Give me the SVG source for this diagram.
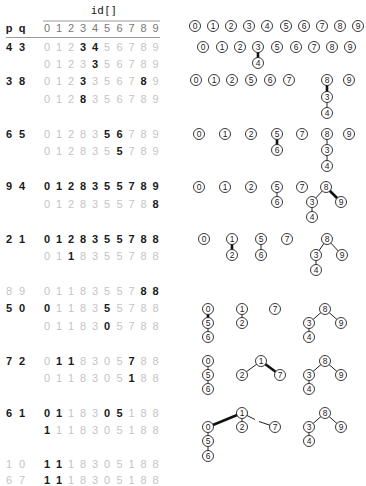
<svg xmlns="http://www.w3.org/2000/svg" width="366" height="486" viewBox="0 0 366 486">
<style>
.t{font-family:"Liberation Sans","DejaVu Sans",sans-serif;font-size:11px;text-anchor:middle}
.g{fill:#c4c4c4}
.b{fill:#1a1a1a;font-weight:bold}
.h{fill:#777}
.pq{fill:#1a1a1a;font-weight:bold}
.pg{fill:#c4c4c4}
.mono{font-family:"DejaVu Sans Mono","Liberation Mono",monospace;font-size:11px;fill:#1a1a1a;text-anchor:middle}
.rule{stroke:#999;stroke-width:1}
circle{fill:#fff;stroke:#222;stroke-width:0.9}
.n text{font-family:"Liberation Sans","DejaVu Sans",sans-serif;font-size:8.5px;text-anchor:middle;fill:#222}
.e{stroke:#222;stroke-width:1;fill:none}
.k{stroke:#111;stroke-width:2.6;fill:none}
</style>

<g id="table">
<text class="mono" x="104" y="14">id[]</text>
<line class="rule" x1="43" y1="21" x2="160" y2="21"/>
<text class="t pq" y="32"><tspan x="9">p</tspan><tspan x="22">q</tspan></text>
<text class="t h" y="32"><tspan x="47">0</tspan><tspan x="59">1</tspan><tspan x="71">2</tspan><tspan x="83">3</tspan><tspan x="95">4</tspan><tspan x="107">5</tspan><tspan x="119.5">6</tspan><tspan x="131.5">7</tspan><tspan x="143.5">8</tspan><tspan x="155.5">9</tspan></text>
<line class="rule" x1="6" y1="37.5" x2="160" y2="37.5"/>

<text class="t pq" y="50.5"><tspan x="9">4</tspan><tspan x="22">3</tspan></text>
<text class="t" y="50.5"><tspan class="g" x="47">0</tspan><tspan class="g" x="59">1</tspan><tspan class="g" x="71">2</tspan><tspan class="b" x="83">3</tspan><tspan class="b" x="95">4</tspan><tspan class="g" x="107">5</tspan><tspan class="g" x="119.5">6</tspan><tspan class="g" x="131.5">7</tspan><tspan class="g" x="143.5">8</tspan><tspan class="g" x="155.5">9</tspan></text>
<text class="t" y="68"><tspan class="g" x="47">0</tspan><tspan class="g" x="59">1</tspan><tspan class="g" x="71">2</tspan><tspan class="g" x="83">3</tspan><tspan class="b" x="95">3</tspan><tspan class="g" x="107">5</tspan><tspan class="g" x="119.5">6</tspan><tspan class="g" x="131.5">7</tspan><tspan class="g" x="143.5">8</tspan><tspan class="g" x="155.5">9</tspan></text>

<text class="t pq" y="85.4"><tspan x="9">3</tspan><tspan x="22">8</tspan></text>
<text class="t" y="85.4"><tspan class="g" x="47">0</tspan><tspan class="g" x="59">1</tspan><tspan class="g" x="71">2</tspan><tspan class="b" x="83">3</tspan><tspan class="g" x="95">3</tspan><tspan class="g" x="107">5</tspan><tspan class="g" x="119.5">6</tspan><tspan class="g" x="131.5">7</tspan><tspan class="b" x="143.5">8</tspan><tspan class="g" x="155.5">9</tspan></text>
<text class="t" y="102.9"><tspan class="g" x="47">0</tspan><tspan class="g" x="59">1</tspan><tspan class="g" x="71">2</tspan><tspan class="b" x="83">8</tspan><tspan class="g" x="95">3</tspan><tspan class="g" x="107">5</tspan><tspan class="g" x="119.5">6</tspan><tspan class="g" x="131.5">7</tspan><tspan class="g" x="143.5">8</tspan><tspan class="g" x="155.5">9</tspan></text>

<text class="t pq" y="137.8"><tspan x="9">6</tspan><tspan x="22">5</tspan></text>
<text class="t" y="137.8"><tspan class="g" x="47">0</tspan><tspan class="g" x="59">1</tspan><tspan class="g" x="71">2</tspan><tspan class="g" x="83">8</tspan><tspan class="g" x="95">3</tspan><tspan class="b" x="107">5</tspan><tspan class="b" x="119.5">6</tspan><tspan class="g" x="131.5">7</tspan><tspan class="g" x="143.5">8</tspan><tspan class="g" x="155.5">9</tspan></text>
<text class="t" y="155.2"><tspan class="g" x="47">0</tspan><tspan class="g" x="59">1</tspan><tspan class="g" x="71">2</tspan><tspan class="g" x="83">8</tspan><tspan class="g" x="95">3</tspan><tspan class="g" x="107">5</tspan><tspan class="b" x="119.5">5</tspan><tspan class="g" x="131.5">7</tspan><tspan class="g" x="143.5">8</tspan><tspan class="g" x="155.5">9</tspan></text>

<text class="t pq" y="190.1"><tspan x="9">9</tspan><tspan x="22">4</tspan></text>
<text class="t b" y="190.1"><tspan x="47">0</tspan><tspan x="59">1</tspan><tspan x="71">2</tspan><tspan x="83">8</tspan><tspan x="95">3</tspan><tspan x="107">5</tspan><tspan x="119.5">5</tspan><tspan x="131.5">7</tspan><tspan x="143.5">8</tspan><tspan x="155.5">9</tspan></text>
<text class="t" y="207.6"><tspan class="g" x="47">0</tspan><tspan class="g" x="59">1</tspan><tspan class="g" x="71">2</tspan><tspan class="g" x="83">8</tspan><tspan class="g" x="95">3</tspan><tspan class="g" x="107">5</tspan><tspan class="g" x="119.5">5</tspan><tspan class="g" x="131.5">7</tspan><tspan class="g" x="143.5">8</tspan><tspan class="b" x="155.5">8</tspan></text>

<text class="t pq" y="242.5"><tspan x="9">2</tspan><tspan x="22">1</tspan></text>
<text class="t b" y="242.5"><tspan x="47">0</tspan><tspan x="59">1</tspan><tspan x="71">2</tspan><tspan x="83">8</tspan><tspan x="95">3</tspan><tspan x="107">5</tspan><tspan x="119.5">5</tspan><tspan x="131.5">7</tspan><tspan x="143.5">8</tspan><tspan x="155.5">8</tspan></text>
<text class="t" y="259.9"><tspan class="g" x="47">0</tspan><tspan class="g" x="59">1</tspan><tspan class="b" x="71">1</tspan><tspan class="g" x="83">8</tspan><tspan class="g" x="95">3</tspan><tspan class="g" x="107">5</tspan><tspan class="g" x="119.5">5</tspan><tspan class="g" x="131.5">7</tspan><tspan class="g" x="143.5">8</tspan><tspan class="g" x="155.5">8</tspan></text>

<text class="t pg" y="294.8"><tspan x="9">8</tspan><tspan x="22">9</tspan></text>
<text class="t" y="294.8"><tspan class="g" x="47">0</tspan><tspan class="g" x="59">1</tspan><tspan class="g" x="71">1</tspan><tspan class="g" x="83">8</tspan><tspan class="g" x="95">3</tspan><tspan class="g" x="107">5</tspan><tspan class="g" x="119.5">5</tspan><tspan class="g" x="131.5">7</tspan><tspan class="b" x="143.5">8</tspan><tspan class="b" x="155.5">8</tspan></text>
<text class="t pq" y="312.3"><tspan x="9">5</tspan><tspan x="22">0</tspan></text>
<text class="t" y="312.3"><tspan class="b" x="47">0</tspan><tspan class="g" x="59">1</tspan><tspan class="g" x="71">1</tspan><tspan class="g" x="83">8</tspan><tspan class="g" x="95">3</tspan><tspan class="b" x="107">5</tspan><tspan class="g" x="119.5">5</tspan><tspan class="g" x="131.5">7</tspan><tspan class="g" x="143.5">8</tspan><tspan class="g" x="155.5">8</tspan></text>
<text class="t" y="329.7"><tspan class="g" x="47">0</tspan><tspan class="g" x="59">1</tspan><tspan class="g" x="71">1</tspan><tspan class="g" x="83">8</tspan><tspan class="g" x="95">3</tspan><tspan class="b" x="107">0</tspan><tspan class="g" x="119.5">5</tspan><tspan class="g" x="131.5">7</tspan><tspan class="g" x="143.5">8</tspan><tspan class="g" x="155.5">8</tspan></text>

<text class="t pq" y="364.6"><tspan x="9">7</tspan><tspan x="22">2</tspan></text>
<text class="t" y="364.6"><tspan class="g" x="47">0</tspan><tspan class="b" x="59">1</tspan><tspan class="b" x="71">1</tspan><tspan class="g" x="83">8</tspan><tspan class="g" x="95">3</tspan><tspan class="g" x="107">0</tspan><tspan class="g" x="119.5">5</tspan><tspan class="b" x="131.5">7</tspan><tspan class="g" x="143.5">8</tspan><tspan class="g" x="155.5">8</tspan></text>
<text class="t" y="382"><tspan class="g" x="47">0</tspan><tspan class="g" x="59">1</tspan><tspan class="g" x="71">1</tspan><tspan class="g" x="83">8</tspan><tspan class="g" x="95">3</tspan><tspan class="g" x="107">0</tspan><tspan class="g" x="119.5">5</tspan><tspan class="b" x="131.5">1</tspan><tspan class="g" x="143.5">8</tspan><tspan class="g" x="155.5">8</tspan></text>

<text class="t pq" y="417"><tspan x="9">6</tspan><tspan x="22">1</tspan></text>
<text class="t" y="417"><tspan class="b" x="47">0</tspan><tspan class="b" x="59">1</tspan><tspan class="g" x="71">1</tspan><tspan class="g" x="83">8</tspan><tspan class="g" x="95">3</tspan><tspan class="b" x="107">0</tspan><tspan class="b" x="119.5">5</tspan><tspan class="g" x="131.5">1</tspan><tspan class="g" x="143.5">8</tspan><tspan class="g" x="155.5">8</tspan></text>
<text class="t" y="434.4"><tspan class="b" x="47">1</tspan><tspan class="g" x="59">1</tspan><tspan class="g" x="71">1</tspan><tspan class="g" x="83">8</tspan><tspan class="g" x="95">3</tspan><tspan class="g" x="107">0</tspan><tspan class="g" x="119.5">5</tspan><tspan class="g" x="131.5">1</tspan><tspan class="g" x="143.5">8</tspan><tspan class="g" x="155.5">8</tspan></text>

<text class="t pg" y="468"><tspan x="9">1</tspan><tspan x="22">0</tspan></text>
<text class="t" y="468"><tspan class="b" x="47">1</tspan><tspan class="b" x="59">1</tspan><tspan class="g" x="71">1</tspan><tspan class="g" x="83">8</tspan><tspan class="g" x="95">3</tspan><tspan class="g" x="107">0</tspan><tspan class="g" x="119.5">5</tspan><tspan class="g" x="131.5">1</tspan><tspan class="g" x="143.5">8</tspan><tspan class="g" x="155.5">8</tspan></text>
<text class="t pg" y="483.5"><tspan x="9">6</tspan><tspan x="22">7</tspan></text>
<text class="t" y="483.5"><tspan class="b" x="47">1</tspan><tspan class="b" x="59">1</tspan><tspan class="g" x="71">1</tspan><tspan class="g" x="83">8</tspan><tspan class="g" x="95">3</tspan><tspan class="g" x="107">0</tspan><tspan class="g" x="119.5">5</tspan><tspan class="g" x="131.5">1</tspan><tspan class="g" x="143.5">8</tspan><tspan class="g" x="155.5">8</tspan></text>
</g>

<g id="connectors">
<line class="k" x1="258" y1="47" x2="258" y2="63"/>
<line class="k" x1="327" y1="80" x2="327" y2="97"/>
<line class="e" x1="327" y1="97" x2="327" y2="113"/>
<line class="k" x1="277" y1="134" x2="277" y2="150"/>
<line class="e" x1="327" y1="134" x2="327" y2="150"/>
<line class="e" x1="327" y1="150" x2="327" y2="166"/>
<line class="k" x1="326" y1="187" x2="341" y2="202"/>
<line class="e" x1="277" y1="187" x2="277" y2="202"/>
<line class="e" x1="326" y1="187" x2="312" y2="202"/>
<line class="e" x1="312" y1="202" x2="312" y2="217"/>
<line class="k" x1="232" y1="239" x2="232" y2="255"/>
<line class="e" x1="261" y1="239" x2="261" y2="255"/>
<line class="e" x1="327" y1="239" x2="316" y2="255"/>
<line class="e" x1="327" y1="239" x2="342" y2="255"/>
<line class="e" x1="316" y1="255" x2="316" y2="270"/>
<line class="k" x1="208" y1="309" x2="208" y2="323"/>
<line class="e" x1="208" y1="323" x2="208" y2="337"/>
<line class="e" x1="242" y1="309" x2="242" y2="323"/>
<line class="e" x1="325" y1="309" x2="309" y2="323"/>
<line class="e" x1="325" y1="309" x2="341" y2="323"/>
<line class="e" x1="309" y1="323" x2="309" y2="337"/>
<line class="k" x1="261" y1="361" x2="280" y2="375"/>
<line class="e" x1="261" y1="361" x2="242" y2="375"/>
<line class="e" x1="208" y1="361" x2="208" y2="375"/>
<line class="e" x1="208" y1="375" x2="208" y2="389"/>
<line class="e" x1="325" y1="361" x2="309" y2="375"/>
<line class="e" x1="325" y1="361" x2="341" y2="375"/>
<line class="e" x1="309" y1="375" x2="309" y2="389"/>
<line class="k" x1="242" y1="413" x2="208" y2="427"/>
<line class="e" x1="242" y1="413" x2="242" y2="427"/>
<line class="e" x1="242" y1="413" x2="255" y2="419.5"/>
<line class="e" x1="259" y1="421.5" x2="275" y2="427"/>
<line class="e" x1="208" y1="427" x2="208" y2="441"/>
<line class="e" x1="208" y1="441" x2="208" y2="456"/>
<line class="e" x1="325" y1="413" x2="309" y2="427"/>
<line class="e" x1="325" y1="413" x2="341" y2="427"/>
<line class="e" x1="309" y1="427" x2="309" y2="441"/>
</g>

<g id="f0-0" class="n"><circle cx="195" cy="26" r="5.5"/><text x="195" y="29">0</text></g>
<g id="f0-1" class="n"><circle cx="213" cy="26" r="5.5"/><text x="213" y="29">1</text></g>
<g id="f0-2" class="n"><circle cx="231" cy="26" r="5.5"/><text x="231" y="29">2</text></g>
<g id="f0-3" class="n"><circle cx="249" cy="26" r="5.5"/><text x="249" y="29">3</text></g>
<g id="f0-4" class="n"><circle cx="267" cy="26" r="5.5"/><text x="267" y="29">4</text></g>
<g id="f0-5" class="n"><circle cx="286" cy="26" r="5.5"/><text x="286" y="29">5</text></g>
<g id="f0-6" class="n"><circle cx="304" cy="26" r="5.5"/><text x="304" y="29">6</text></g>
<g id="f0-7" class="n"><circle cx="322" cy="26" r="5.5"/><text x="322" y="29">7</text></g>
<g id="f0-8" class="n"><circle cx="340" cy="26" r="5.5"/><text x="340" y="29">8</text></g>
<g id="f0-9" class="n"><circle cx="358" cy="26" r="5.5"/><text x="358" y="29">9</text></g>

<g id="f1-0" class="n"><circle cx="203" cy="47" r="5.5"/><text x="203" y="50">0</text></g>
<g id="f1-1" class="n"><circle cx="222" cy="47" r="5.5"/><text x="222" y="50">1</text></g>
<g id="f1-2" class="n"><circle cx="240" cy="47" r="5.5"/><text x="240" y="50">2</text></g>
<g id="f1-3" class="n"><circle cx="258" cy="47" r="5.5"/><text x="258" y="50">3</text></g>
<g id="f1-4" class="n"><circle cx="258" cy="63" r="5.5"/><text x="258" y="66">4</text></g>
<g id="f1-5" class="n"><circle cx="277" cy="47" r="5.5"/><text x="277" y="50">5</text></g>
<g id="f1-6" class="n"><circle cx="296" cy="47" r="5.5"/><text x="296" y="50">6</text></g>
<g id="f1-7" class="n"><circle cx="314" cy="47" r="5.5"/><text x="314" y="50">7</text></g>
<g id="f1-8" class="n"><circle cx="332" cy="47" r="5.5"/><text x="332" y="50">8</text></g>
<g id="f1-9" class="n"><circle cx="350" cy="47" r="5.5"/><text x="350" y="50">9</text></g>

<g id="f2-0" class="n"><circle cx="196" cy="80" r="5.5"/><text x="196" y="83">0</text></g>
<g id="f2-1" class="n"><circle cx="214" cy="80" r="5.5"/><text x="214" y="83">1</text></g>
<g id="f2-2" class="n"><circle cx="232" cy="80" r="5.5"/><text x="232" y="83">2</text></g>
<g id="f2-5" class="n"><circle cx="251" cy="80" r="5.5"/><text x="251" y="83">5</text></g>
<g id="f2-6" class="n"><circle cx="270" cy="80" r="5.5"/><text x="270" y="83">6</text></g>
<g id="f2-7" class="n"><circle cx="289" cy="80" r="5.5"/><text x="289" y="83">7</text></g>
<g id="f2-8" class="n"><circle cx="327" cy="80" r="5.5"/><text x="327" y="83">8</text></g>
<g id="f2-3" class="n"><circle cx="327" cy="97" r="5.5"/><text x="327" y="100">3</text></g>
<g id="f2-4" class="n"><circle cx="327" cy="113" r="5.5"/><text x="327" y="116">4</text></g>
<g id="f2-9" class="n"><circle cx="349" cy="80" r="5.5"/><text x="349" y="83">9</text></g>

<g id="f3-0" class="n"><circle cx="199" cy="134" r="5.5"/><text x="199" y="137">0</text></g>
<g id="f3-1" class="n"><circle cx="225" cy="134" r="5.5"/><text x="225" y="137">1</text></g>
<g id="f3-2" class="n"><circle cx="251" cy="134" r="5.5"/><text x="251" y="137">2</text></g>
<g id="f3-5" class="n"><circle cx="277" cy="134" r="5.5"/><text x="277" y="137">5</text></g>
<g id="f3-6" class="n"><circle cx="277" cy="150" r="5.5"/><text x="277" y="153">6</text></g>
<g id="f3-7" class="n"><circle cx="302" cy="134" r="5.5"/><text x="302" y="137">7</text></g>
<g id="f3-8" class="n"><circle cx="327" cy="134" r="5.5"/><text x="327" y="137">8</text></g>
<g id="f3-3" class="n"><circle cx="327" cy="150" r="5.5"/><text x="327" y="153">3</text></g>
<g id="f3-4" class="n"><circle cx="327" cy="166" r="5.5"/><text x="327" y="169">4</text></g>
<g id="f3-9" class="n"><circle cx="349" cy="134" r="5.5"/><text x="349" y="137">9</text></g>

<g id="f4-0" class="n"><circle cx="199" cy="187" r="5.5"/><text x="199" y="190">0</text></g>
<g id="f4-1" class="n"><circle cx="225" cy="187" r="5.5"/><text x="225" y="190">1</text></g>
<g id="f4-2" class="n"><circle cx="251" cy="187" r="5.5"/><text x="251" y="190">2</text></g>
<g id="f4-5" class="n"><circle cx="277" cy="187" r="5.5"/><text x="277" y="190">5</text></g>
<g id="f4-6" class="n"><circle cx="277" cy="202" r="5.5"/><text x="277" y="205">6</text></g>
<g id="f4-7" class="n"><circle cx="302" cy="187" r="5.5"/><text x="302" y="190">7</text></g>
<g id="f4-8" class="n"><circle cx="326" cy="187" r="5.5"/><text x="326" y="190">8</text></g>
<g id="f4-3" class="n"><circle cx="312" cy="202" r="5.5"/><text x="312" y="205">3</text></g>
<g id="f4-9" class="n"><circle cx="341" cy="202" r="5.5"/><text x="341" y="205">9</text></g>
<g id="f4-4" class="n"><circle cx="312" cy="217" r="5.5"/><text x="312" y="220">4</text></g>

<g id="f5-0" class="n"><circle cx="204" cy="239" r="5.5"/><text x="204" y="242">0</text></g>
<g id="f5-1" class="n"><circle cx="232" cy="239" r="5.5"/><text x="232" y="242">1</text></g>
<g id="f5-2" class="n"><circle cx="232" cy="255" r="5.5"/><text x="232" y="258">2</text></g>
<g id="f5-5" class="n"><circle cx="261" cy="239" r="5.5"/><text x="261" y="242">5</text></g>
<g id="f5-6" class="n"><circle cx="261" cy="255" r="5.5"/><text x="261" y="258">6</text></g>
<g id="f5-7" class="n"><circle cx="287" cy="239" r="5.5"/><text x="287" y="242">7</text></g>
<g id="f5-8" class="n"><circle cx="327" cy="239" r="5.5"/><text x="327" y="242">8</text></g>
<g id="f5-3" class="n"><circle cx="316" cy="255" r="5.5"/><text x="316" y="258">3</text></g>
<g id="f5-9" class="n"><circle cx="342" cy="255" r="5.5"/><text x="342" y="258">9</text></g>
<g id="f5-4" class="n"><circle cx="316" cy="270" r="5.5"/><text x="316" y="273">4</text></g>

<g id="f6-0" class="n"><circle cx="208" cy="309" r="5.5"/><text x="208" y="312">0</text></g>
<g id="f6-5" class="n"><circle cx="208" cy="323" r="5.5"/><text x="208" y="326">5</text></g>
<g id="f6-6" class="n"><circle cx="208" cy="337" r="5.5"/><text x="208" y="340">6</text></g>
<g id="f6-1" class="n"><circle cx="242" cy="309" r="5.5"/><text x="242" y="312">1</text></g>
<g id="f6-2" class="n"><circle cx="242" cy="323" r="5.5"/><text x="242" y="326">2</text></g>
<g id="f6-7" class="n"><circle cx="275" cy="309" r="5.5"/><text x="275" y="312">7</text></g>
<g id="f6-8" class="n"><circle cx="325" cy="309" r="5.5"/><text x="325" y="312">8</text></g>
<g id="f6-3" class="n"><circle cx="309" cy="323" r="5.5"/><text x="309" y="326">3</text></g>
<g id="f6-9" class="n"><circle cx="341" cy="323" r="5.5"/><text x="341" y="326">9</text></g>
<g id="f6-4" class="n"><circle cx="309" cy="337" r="5.5"/><text x="309" y="340">4</text></g>

<g id="f7-0" class="n"><circle cx="208" cy="361" r="5.5"/><text x="208" y="364">0</text></g>
<g id="f7-5" class="n"><circle cx="208" cy="375" r="5.5"/><text x="208" y="378">5</text></g>
<g id="f7-6" class="n"><circle cx="208" cy="389" r="5.5"/><text x="208" y="392">6</text></g>
<g id="f7-1" class="n"><circle cx="261" cy="361" r="5.5"/><text x="261" y="364">1</text></g>
<g id="f7-2" class="n"><circle cx="242" cy="375" r="5.5"/><text x="242" y="378">2</text></g>
<g id="f7-7" class="n"><circle cx="280" cy="375" r="5.5"/><text x="280" y="378">7</text></g>
<g id="f7-8" class="n"><circle cx="325" cy="361" r="5.5"/><text x="325" y="364">8</text></g>
<g id="f7-3" class="n"><circle cx="309" cy="375" r="5.5"/><text x="309" y="378">3</text></g>
<g id="f7-9" class="n"><circle cx="341" cy="375" r="5.5"/><text x="341" y="378">9</text></g>
<g id="f7-4" class="n"><circle cx="309" cy="389" r="5.5"/><text x="309" y="392">4</text></g>

<g id="f8-1" class="n"><circle cx="242" cy="413" r="5.5"/><text x="242" y="416">1</text></g>
<g id="f8-0" class="n"><circle cx="208" cy="427" r="5.5"/><text x="208" y="430">0</text></g>
<g id="f8-2" class="n"><circle cx="242" cy="427" r="5.5"/><text x="242" y="430">2</text></g>
<g id="f8-7" class="n"><circle cx="275" cy="427" r="5.5"/><text x="275" y="430">7</text></g>
<g id="f8-5" class="n"><circle cx="208" cy="441" r="5.5"/><text x="208" y="444">5</text></g>
<g id="f8-6" class="n"><circle cx="208" cy="456" r="5.5"/><text x="208" y="459">6</text></g>
<g id="f8-8" class="n"><circle cx="325" cy="413" r="5.5"/><text x="325" y="416">8</text></g>
<g id="f8-3" class="n"><circle cx="309" cy="427" r="5.5"/><text x="309" y="430">3</text></g>
<g id="f8-9" class="n"><circle cx="341" cy="427" r="5.5"/><text x="341" y="430">9</text></g>
<g id="f8-4" class="n"><circle cx="309" cy="441" r="5.5"/><text x="309" y="444">4</text></g>
</svg>
